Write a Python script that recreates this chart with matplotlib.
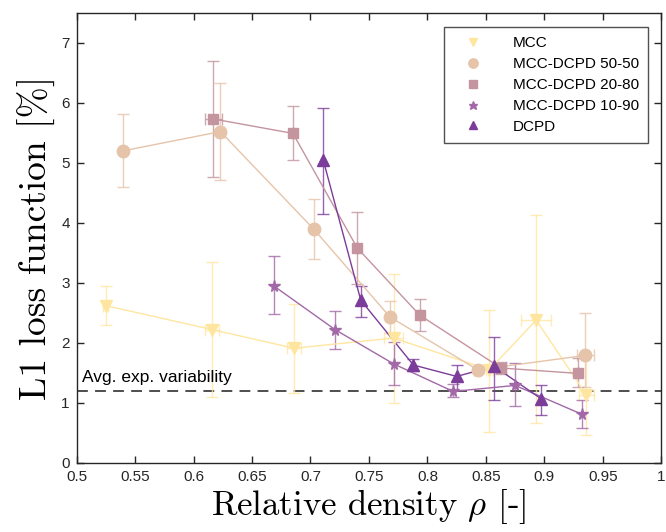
import numpy as np
import matplotlib.pyplot as plt

plt.rcParams['mathtext.fontset'] = 'cm'
plt.rcParams['font.family'] = ['Liberation Sans', 'DejaVu Sans']

# relative density, L1 loss [%], and error bar ends for each material
mcc_x = [0.525, 0.616, 0.686, 0.771, 0.853, 0.893, 0.936]
mcc_y = [2.62, 2.22, 1.91, 2.08, 1.55, 2.38, 1.13]
mcc_lo = [2.29, 1.09, 1.17, 1.00, 0.52, 0.66, 0.47]
mcc_hi = [2.95, 3.35, 2.64, 3.14, 2.55, 4.13, 1.79]
mcc_xerr = [0.002, 0.006, 0.006, 0.008, 0.003, 0.013, 0.006]

m50_x = [0.540, 0.623, 0.703, 0.768, 0.843, 0.935]
m50_y = [5.20, 5.52, 3.89, 2.43, 1.55, 1.79]
m50_lo = [4.59, 4.71, 3.40, 2.16, 1.50, 1.27]
m50_hi = [5.81, 6.33, 4.39, 2.70, 1.60, 2.49]
m50_xerr = [0.0, 0.003, 0.0, 0.0, 0.003, 0.007]

m20_x = [0.617, 0.685, 0.740, 0.7935, 0.863, 0.929]
m20_y = [5.73, 5.49, 3.58, 2.46, 1.58, 1.49]
m20_lo = [4.77, 5.04, 2.98, 2.20, 1.48, 1.27]
m20_hi = [6.69, 5.94, 4.18, 2.73, 1.68, 1.75]
m20_xerr = [0.007, 0.0, 0.0, 0.0, 0.004, 0.0]

m10_x = [0.6685, 0.721, 0.771, 0.822, 0.875, 0.932]
m10_y = [2.95, 2.22, 1.65, 1.19, 1.29, 0.81]
m10_lo = [2.48, 1.90, 1.29, 1.09, 0.94, 0.58]
m10_hi = [3.44, 2.53, 2.02, 1.31, 1.66, 1.04]

dcpd_x = [0.711, 0.743, 0.788, 0.825, 0.857, 0.897]
dcpd_y = [5.04, 2.71, 1.63, 1.44, 1.61, 1.07]
dcpd_lo = [4.15, 2.43, 1.53, 1.22, 1.05, 0.80]
dcpd_hi = [5.91, 2.94, 1.73, 1.63, 2.09, 1.30]

avg_var = 1.2

series = [
    ('MCC', mcc_x, mcc_y, mcc_lo, mcc_hi, mcc_xerr, 'v', 8.5, '#ffe6a0'),
    ('MCC-DCPD 50-50', m50_x, m50_y, m50_lo, m50_hi, m50_xerr, 'o', 9, '#e6c4aa'),
    ('MCC-DCPD 20-80', m20_x, m20_y, m20_lo, m20_hi, m20_xerr, 's', 7, '#c4949f'),
    ('MCC-DCPD 10-90', m10_x, m10_y, m10_lo, m10_hi, None, '*', 8.5, '#a268a8'),
    ('DCPD', dcpd_x, dcpd_y, dcpd_lo, dcpd_hi, None, '^', 8.5, '#7c3c9a'),
]

fig = plt.figure(figsize=(6.66, 5.32), dpi=100)
ax = fig.add_axes([0.115, 0.13, 0.878, 0.846])

handles = []
for name, x, y, lo, hi, xe, mk, ms, c in series:
    y = np.array(y)
    yerr = [y - np.array(lo), np.array(hi) - y]
    ax.errorbar(x, y, yerr=yerr, xerr=xe, fmt='none', ecolor=c, elinewidth=1,
                capsize=4.3, capthick=1, alpha=0.8, zorder=2)
    ax.plot(x, y, '-', color=c, lw=1, zorder=3)
    h, = ax.plot(x, y, mk, color=c, ms=ms, mec=c, ls='none', zorder=4, label=name)
    handles.append(h)

ax.axhline(avg_var, color='#404040', ls=(0, (6, 4)), lw=1.3, zorder=1)
ax.text(0.505, 1.3, 'Avg. exp. variability', fontsize=12.5, ha='left', va='bottom')

ax.set_xlim(0.5, 1.0)
ax.set_ylim(0, 7.5)
ax.set_xticks(np.arange(0.5, 1.001, 0.05))
ax.set_xticklabels(['0.5', '0.55', '0.6', '0.65', '0.7', '0.75', '0.8', '0.85', '0.9', '0.95', '1'])
ax.set_yticks(range(0, 8))
ax.tick_params(direction='in', top=True, right=True, length=5, width=1,
               labelsize=11, color='#262626', labelcolor='#262626', pad=5)
for s in ax.spines.values():
    s.set_color('#262626')
    s.set_linewidth(1)

# axis labels in Computer Modern, rho through mathtext
ax.set_xlabel(r'Relative density $\rho$ [-]', family='cmr10', fontsize=25, labelpad=2)
ax.set_ylabel('L1 loss function [%]', family='cmr10', fontsize=27, labelpad=4)

leg = ax.legend(handles=handles, loc='upper right', bbox_to_anchor=(0.99, 0.985),
                fontsize=11, frameon=True, fancybox=False, edgecolor='#262626',
                markerscale=0.75, handlelength=2.6, borderpad=0.6, labelspacing=0.45,
                handletextpad=1.3)
leg.get_frame().set_linewidth(1)

fig.savefig('out.png', dpi=100)
